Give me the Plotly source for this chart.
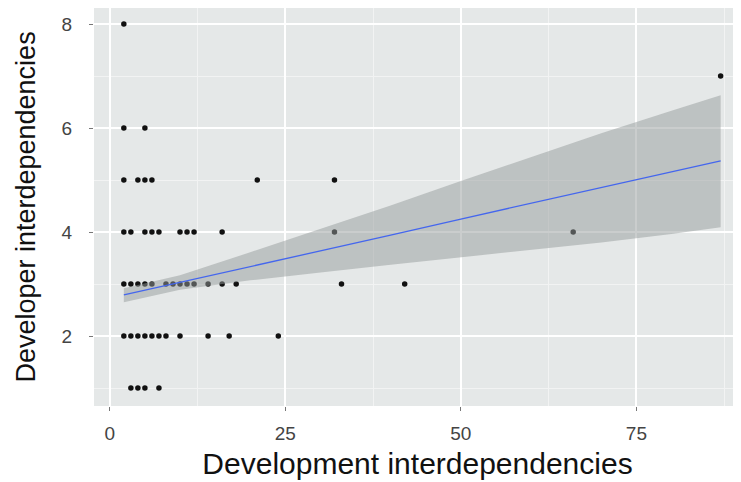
import plotly.graph_objects as go

# Data (x = development, y = developer interdependencies)
dev_y8 = [2]
dev_y7 = [87]
dev_y6 = [2, 5]
dev_y5 = [2, 4, 5, 6, 21, 32]
dev_y4 = [2, 3, 5, 6, 7, 10, 11, 12, 16, 32, 66]
dev_y3 = [2, 3, 4, 5, 6, 8, 9, 10, 11, 12, 14, 16, 18, 33, 42]
dev_y2 = [2, 3, 4, 5, 6, 7, 8, 10, 14, 17, 24]
dev_y1 = [3, 4, 5, 7]

groups = {8: dev_y8, 7: dev_y7, 6: dev_y6, 5: dev_y5, 4: dev_y4, 3: dev_y3, 2: dev_y2, 1: dev_y1}
x = [v for k, vs in groups.items() for v in vs]
y = [k for k, vs in groups.items() for v in vs]

# Linear smoother and its 95% band
fit_x = [2, 10, 20, 30, 40, 50, 60, 70, 80, 87]
fit_y = [2.79, 3.03, 3.34, 3.64, 3.94, 4.25, 4.55, 4.85, 5.16, 5.37]
band_lo = [2.65, 2.89, 3.07, 3.22, 3.37, 3.52, 3.66, 3.80, 3.96, 4.09]
band_hi = [2.92, 3.17, 3.61, 4.06, 4.51, 4.98, 5.44, 5.90, 6.33, 6.63]

x_ticks = [0, 25, 50, 75]
y_ticks = [2, 4, 6, 8]

fig = go.Figure()
fig.add_trace(go.Scatter(x=x, y=y, mode="markers",
                         marker=dict(color="#111111", size=5.5, line=dict(width=0)),
                         showlegend=False))
fig.add_trace(go.Scatter(
    x=fit_x + fit_x[::-1], y=band_hi + band_lo[::-1],
    fill="toself", fillcolor="rgba(150,155,155,0.5)", line=dict(width=0),
    mode="lines", hoverinfo="skip", showlegend=False))
fig.add_trace(go.Scatter(x=fit_x, y=fit_y, mode="lines",
                         line=dict(color="#4466EE", width=1.3), showlegend=False))

# The page body adds an 8px offset, so the figure is sized to fill the rest of the window
fig.update_layout(
    width=733, height=474,
    margin=dict(l=86, r=0, t=0, b=76),
    paper_bgcolor="white", plot_bgcolor="#E5E8E8",
    font=dict(family="Liberation Sans, Arial, sans-serif", color="#111111"),
    xaxis=dict(range=[-2.25, 89.9], tickvals=x_ticks, ticktext=[str(v) for v in x_ticks],
               automargin=False,
               showgrid=True, gridcolor="white", gridwidth=1.6, zeroline=False,
               ticks="outside", ticklen=4, tickcolor="#777777", ticklabelstandoff=6,
               tickfont=dict(size=19, color="#444444"),
               minor=dict(tickvals=[12.5, 37.5, 62.5, 87.5], showgrid=True,
                          gridcolor="#F2F3F3", gridwidth=0.8, ticks=""),
               title=dict(text="Development interdependencies", font=dict(size=30, color="#111111"),
                          standoff=10)),
    yaxis=dict(range=[0.654, 8.308], tickvals=y_ticks, ticktext=[str(v) for v in y_ticks],
               automargin=False,
               showgrid=True, gridcolor="white", gridwidth=1.6, zeroline=False,
               ticks="outside", ticklen=4, tickcolor="#777777", ticklabelstandoff=13,
               tickfont=dict(size=19, color="#444444"),
               minor=dict(tickvals=[1, 3, 5, 7], showgrid=True,
                          gridcolor="#F2F3F3", gridwidth=0.8, ticks=""),
               title=dict(text="Developer interdependencies", font=dict(size=27, color="#111111"),
                          standoff=18)),
)

fig.write_html("out.html")
